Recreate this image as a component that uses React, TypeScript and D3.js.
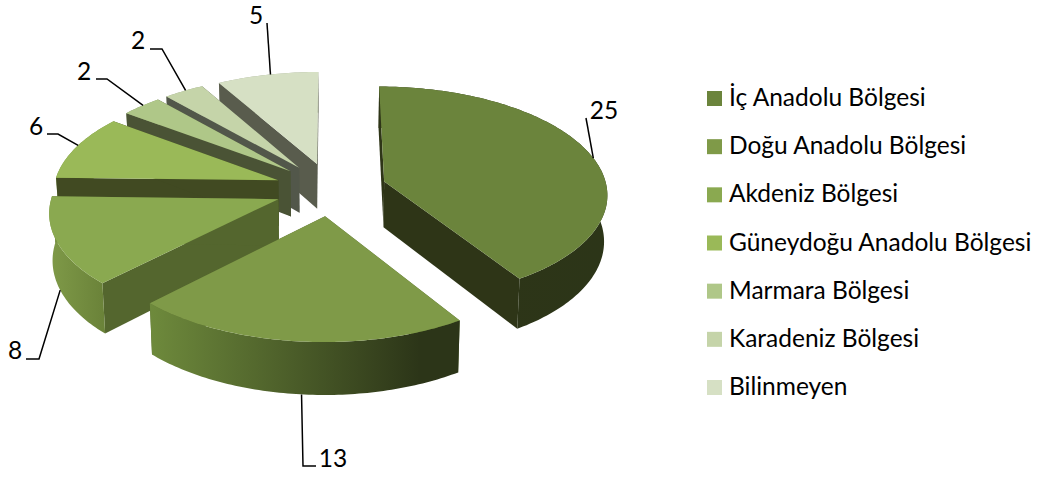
import React from "react";
import * as d3 from "d3";

const regions = ["İç Anadolu Bölgesi","Doğu Anadolu Bölgesi","Akdeniz Bölgesi","Güneydoğu Anadolu Bölgesi","Marmara Bölgesi","Karadeniz Bölgesi","Bilinmeyen"];
const counts = [25,13,8,6,2,2,5];
const topColors = ["#6b843c","#7f9a48","#8aa950","#9ab958","#afc788","#c5d4a9","#d6e0c4"];
const wallColors = ["#2e3517","#54662e","#54662e","#414a22","#4a5335","#52574a","#595c4d"];
const rimStops: [string,string][] = [["#2e3517","#2c3518"],["#6e8a3c","#2c3518"],["#7f9a48","#6a8239"],["#7a9444","#7a9444"],["#8a9a70","#8a9a70"],["#9aa58a","#9aa58a"],["#a5ad98","#a5ad98"]];
const legendColors = ["#6b843c","#7f9a48","#8aa950","#9ab958","#afc788","#c5d4a9","#d6e0c4"];

// Layout of the exploded, perspective projected disc
const CX=331, CY=189, A_RIGHT=223, A_LEFT=225, B=106.5, K=0.105, DEPTH=46, EXPLODE=0.25;
const anchorT=[0.52,0.49,0.5,0.53,0.55,0.55,0.53];
const anchorLow=[false,true,true,false,false,false,false];
const frontFacing=[true,true,true,false,false,false,false];
const leaderTail: [number,number][][]=[[[586,118]],[[303,466],[316,466]],[[39,359],[26,359]],[[58,134],[47,134]],[[107,79],[96,79]],[[162,49],[150,49]],[[267,23]]];
const labelPos: [number,number][]=[[604,119],[333,467],[15,359],[36,135],[84,80],[138,49],[256,24]];

type P=[number,number];
const project=(U:number,V:number,low:boolean):P=>{
  const w=1+K*V;
  const x=(U<0?A_LEFT:A_RIGHT)*U/w, y=-B*V/w;
  return low?[CX+x*0.988,CY+y+DEPTH/w]:[CX+x,CY+y];
};

const arcs=d3.pie<number>().sort(null).startAngle(0).endAngle(2*Math.PI)(counts);
const line=d3.line<P>();

const slices=arcs.map((a,i)=>{
  const mid=(a.startAngle+a.endAngle)/2;
  const ex=EXPLODE*Math.sin(mid), ey=EXPLODE*Math.cos(mid);
  const pt=(t:number,low:boolean)=>project(ex+Math.sin(t),ey+Math.cos(t),low);
  const apex=(low:boolean)=>project(ex,ey,low);
  const n=Math.max(4,Math.ceil((a.endAngle-a.startAngle)*60));
  const ts=d3.range(n+1).map(j=>a.startAngle+(a.endAngle-a.startAngle)*j/n);
  const up=ts.map(t=>pt(t,false)), lo=ts.map(t=>pt(t,true));
  const top=line([apex(false),...up])+"Z";
  const rim=line([...up,...[...lo].reverse()])+"Z";
  const wallA=line([apex(false),up[0],lo[0],apex(true)])+"Z";
  const wallB=line([apex(false),up[n],lo[n],apex(true)])+"Z";
  const xs=[...up,...lo].map(p=>p[0]);
  const anchor=pt(a.startAngle+(a.endAngle-a.startAngle)*anchorT[i],anchorLow[i]);
  return {i,top,rim,wallA,wallB,x0:d3.min(xs)!,x1:d3.max(xs)!,anchor};
});

export default function App(){
  const order=[...slices].reverse();
  return (
    <svg width={1043} height={477} style={{position:"absolute",left:0,top:0,background:"#fff"}}>
      <defs>
        {slices.map(s=>(
          <linearGradient key={s.i} id={`rim${s.i}`} gradientUnits="userSpaceOnUse" x1={s.x0} x2={s.i===1?s.x1-40:s.i===2?105:s.x1} y1={0} y2={0}>
            <stop offset="0" stopColor={rimStops[s.i][0]}/>
            <stop offset="1" stopColor={rimStops[s.i][1]}/>
          </linearGradient>
        ))}
      </defs>
      {order.map(s=>{
        const rim=<path d={s.rim} fill={`url(#rim${s.i})`}/>;
        return (
          <g key={s.i}>
            {!frontFacing[s.i]&&rim}
            <path d={s.wallA} fill={wallColors[s.i]}/>
            <path d={s.wallB} fill={wallColors[s.i]}/>
            {frontFacing[s.i]&&rim}
            <path d={s.top} fill={topColors[s.i]}/>
          </g>
        );
      })}
      {slices.map(s=>(
        <g key={s.i}>
          <polyline points={[s.anchor,...leaderTail[s.i]].map(p=>p.join(",")).join(" ")} fill="none" stroke="#000" strokeWidth={1.5}/>
          <text x={labelPos[s.i][0]} y={labelPos[s.i][1]} textAnchor="middle" fontFamily="Lato" fontSize={24.5} fill="#000">{counts[s.i]}</text>
        </g>
      ))}
      {regions.map((r,i)=>{
        const y=d3.scaleLinear([0,6],[91,380])(i);
        return (
          <g key={r}>
            <rect x={707} y={y} width={15} height={15} fill={legendColors[i]}/>
            <text x={729} y={y+15} fontFamily="Lato" fontSize={24.5} fill="#000">{r}</text>
          </g>
        );
      })}
    </svg>
  );
}
